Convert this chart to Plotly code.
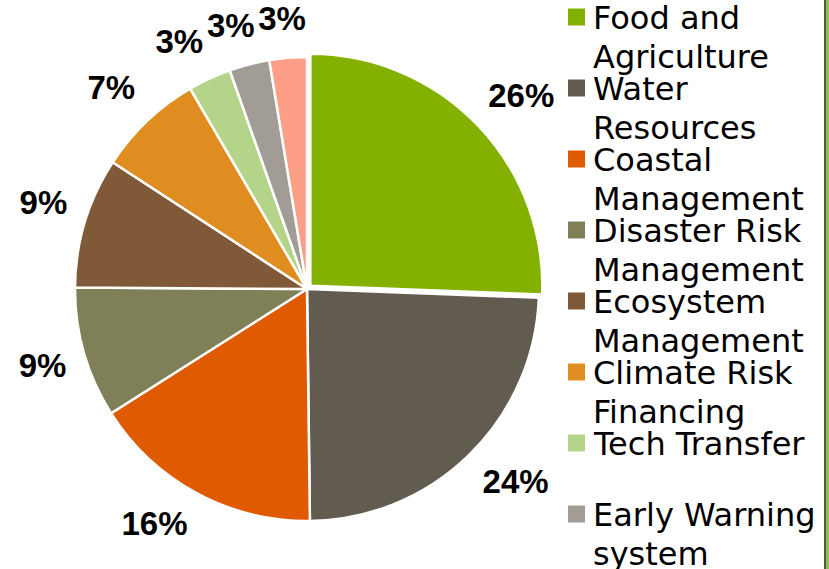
import math
import plotly.graph_objects as go

labels = ["Food and Agriculture", "Water Resources", "Coastal Management",
          "Disaster Risk Management", "Ecosystem Management", "Climate Risk Financing",
          "Tech Transfer", "Early Warning system", "Other"]
values = [25.6, 24.2, 16.2, 9.1, 9.1, 7.4, 3.0, 2.8, 2.6]
colors = ["#84B000", "#625B50", "#DF5A00", "#7F8058", "#805A38",
          "#DF8C21", "#B4D589", "#A19D96", "#FD9E86"]
legend_text = ["Food and<br>Agriculture", "Water<br>Resources", "Coastal<br>Management",
               "Disaster Risk<br>Management", "Ecosystem<br>Management",
               "Climate Risk<br>Financing", "Tech Transfer", "Early Warning<br>system"]

W, H = 829, 569
CX, CY, R = 307, 289, 232          # pie centre / radius in pixels
PULL = 0.02
pulls = [PULL] + [0] * (len(values) - 1)

dom = R * (1 + PULL)
fig = go.Figure(go.Pie(
    labels=labels, values=values, sort=False, direction="clockwise", rotation=0,
    marker=dict(colors=colors, line=dict(color="white", width=2.5)),
    pull=pulls, textinfo="none", showlegend=False,
    domain=dict(x=[(CX - dom) / W, (CX + dom) / W],
                y=[(H - CY - dom) / H, (H - CY + dom) / H]),
))

# percentage labels ("outside end"), positioned in pie-radius units on hidden axes
total = sum(values)
pct_text = [f"{round(v / total * 100)}%" for v in values]
lx, ly, acc = [], [], 0.0
GAP, HH, K = 21, 15, 2.5
for v, t in zip(values, pct_text):
    a = math.radians((acc + v / 2) / total * 360)
    acc += v
    s, c = math.sin(a), math.cos(a)
    hw = 16 * len(t) / 1.5
    ax, ay = (R + GAP) * s, (R + GAP) * c          # y up
    sx = max(-1, min(1, s * K))
    sy = max(-1, min(1, c * K))
    lx.append((ax + hw * sx) / R)
    ly.append((ay + HH * sy) / R)

fig.add_trace(go.Scatter(
    x=lx, y=ly, mode="text", text=pct_text,
    textfont=dict(family="Liberation Sans", size=33, color="black", weight="bold"),
    cliponaxis=False, showlegend=False, hoverinfo="skip",
))
fig.update_xaxes(range=[-CX / R, (W - CX) / R], visible=False, fixedrange=True)
fig.update_yaxes(range=[-(H - CY) / R, CY / R], visible=False, fixedrange=True)

shapes = []
annotations = []
for i, (txt, col) in enumerate(zip(legend_text, colors)):
    sq_c = 17 + i * 71
    shapes.append(dict(type="rect", xref="paper", yref="paper",
                       x0=568 / W, x1=585 / W,
                       y0=1 - (sq_c - 8.5) / H, y1=1 - (sq_c + 8.5) / H,
                       fillcolor=col, line=dict(width=0)))
    for j, line in enumerate(txt.split("<br>")):
        yc = 18 + i * 71 + j * 39
        annotations.append(dict(xref="paper", yref="paper", x=591 / W, y=1 - yc / H,
                                xanchor="left", yanchor="middle", align="left",
                                showarrow=False, text=line,
                                font=dict(family="DejaVu Sans", size=32, color="black")))

shapes.append(dict(type="rect", xref="paper", yref="paper", x0=824 / W, x1=826.5 / W,
                   y0=0, y1=1, fillcolor="#4F5A3C", line=dict(width=0)))
shapes.append(dict(type="rect", xref="paper", yref="paper", x0=826.5 / W, x1=1,
                   y0=0, y1=1, fillcolor="#8CC04B", line=dict(width=0)))

fig.update_layout(width=W, height=H, margin=dict(l=0, r=0, t=0, b=0),
                  paper_bgcolor="white", plot_bgcolor="rgba(0,0,0,0)",
                  shapes=shapes, annotations=annotations)
fig.write_html("out.html")
